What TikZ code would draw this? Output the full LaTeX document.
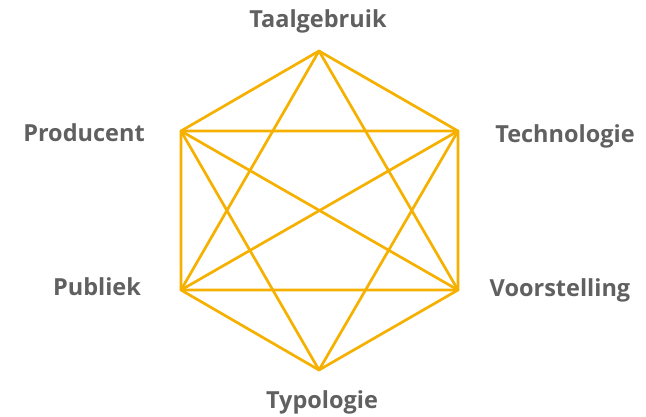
\documentclass[tikz,border=0pt]{standalone}
\usepackage{fontspec}
\setmainfont{Open Sans}
\usepackage{xcolor}
\definecolor{star-gold}{HTML}{F5B000}
\definecolor{label-grey}{HTML}{606060}
\tikzset{
    star-line/.style = {draw=star-gold, line width=2.7pt, line join=round},
    corner-label/.style = {text=label-grey, font=\fontsize{23.5}{28}\selectfont\bfseries, inner sep=0pt},
}

\begin{document}
\begin{tikzpicture}[x=1pt, y=-1pt]
\useasboundingbox (0,0) rectangle (646,417);
\coordinate (taal) at (319,51);
\coordinate (tech) at (458,131);
\coordinate (voor) at (458,290);
\coordinate (typo) at (319,370);
\coordinate (publ) at (181,290);
\coordinate (prod) at (181,131);

\node[corner-label] (taal-label) at (318,21) {Taalgebruik};
\node[corner-label] (prod-label) at (84,133) {Producent};
\node[corner-label] (tech-label) at (565,136) {Technologie};
\node[corner-label] (publ-label) at (97,287) {Publiek};
\node[corner-label] (voor-label) at (560,290) {Voorstelling};
\node[corner-label] (typo-label) at (322,402) {Typologie};

\draw[star-line] (taal) -- (tech) -- (voor) -- (typo) -- (publ) -- (prod) -- cycle;
\draw[star-line] (taal) -- (voor) -- (publ) -- cycle;
\draw[star-line] (typo) -- (tech) -- (prod) -- cycle;
\draw[star-line] (prod) -- (voor);
\draw[star-line] (publ) -- (tech);
\end{tikzpicture}
\end{document}
